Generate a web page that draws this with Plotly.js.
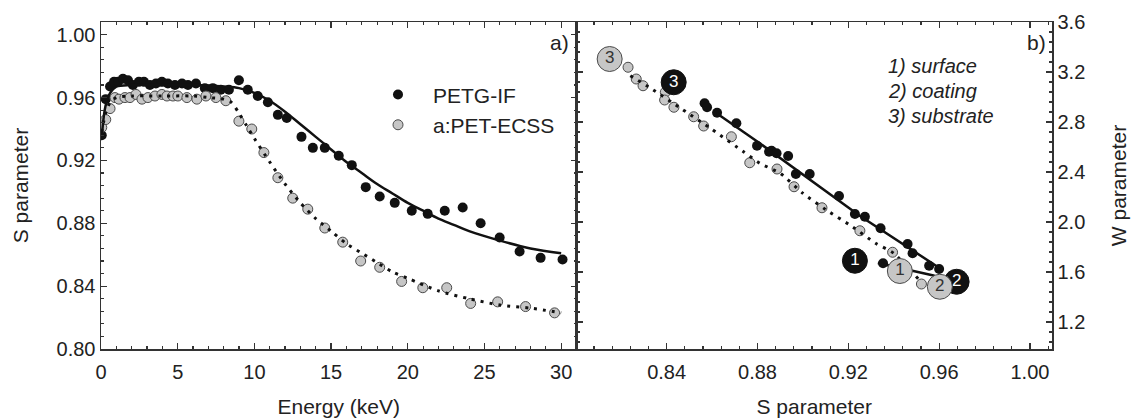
<!DOCTYPE html>
<html><head><meta charset="utf-8">
<script src="https://cdn.plot.ly/plotly-3.0.1.min.js"></script>
<style>html,body{margin:0;padding:0;background:#fff}#chart{width:1137px;height:420px}</style>
</head><body><div id="chart"></div>
<script>
// ---- Panel a) S parameter vs positron energy ----
const petgE = [0.05,0.31,0.59,0.85,1.11,1.43,1.76,2.08,2.47,2.80,3.19,3.58,3.97,4.36,4.82,5.28,5.67,6.19,6.77,7.29,7.81,8.34,8.99,9.57,10.22,10.88,11.53,12.11,13.07,13.81,14.59,15.50,16.35,17.26,18.17,19.15,20.26,21.30,22.41,23.58,24.75,25.99,27.29,28.66,30.09];
const petgS = [0.936,0.959,0.967,0.970,0.970,0.972,0.971,0.968,0.970,0.970,0.968,0.969,0.970,0.969,0.968,0.969,0.968,0.969,0.966,0.966,0.965,0.965,0.971,0.965,0.961,0.957,0.949,0.947,0.935,0.928,0.928,0.923,0.917,0.903,0.897,0.893,0.888,0.886,0.888,0.890,0.880,0.871,0.862,0.858,0.857];
const ecssE = [0.05,0.31,0.59,0.91,1.17,1.56,1.89,2.28,2.67,3.06,3.52,3.97,4.30,4.69,5.01,5.60,6.25,6.84,7.49,8.14,8.99,9.83,10.62,11.53,12.50,13.48,14.59,15.76,16.93,18.17,19.60,20.98,22.54,24.10,25.86,27.68,29.57];
const ecssS = [0.941,0.946,0.953,0.960,0.959,0.960,0.960,0.962,0.959,0.960,0.961,0.962,0.961,0.961,0.961,0.960,0.959,0.961,0.960,0.958,0.945,0.940,0.925,0.909,0.896,0.889,0.877,0.868,0.856,0.852,0.843,0.839,0.839,0.829,0.830,0.827,0.823];
// fitted curves
const petgFitE = [0.05,0.3,0.6,1,2,4,6,8,9,10,11,12,13,14,15,16,17,18,19,20,21,22,23,24,26,28,30];
const petgFitS = [0.935,0.955,0.963,0.967,0.968,0.968,0.968,0.967,0.966,0.963,0.958,0.951,0.943,0.935,0.927,0.919,0.912,0.905,0.899,0.893,0.888,0.883,0.879,0.875,0.869,0.864,0.861];
const ecssFitE = [0.05,0.3,0.6,1,2,4,6,7,8,8.5,9,9.5,10,11,12,13,14,15,16,17,18,19,20,22,24,26,28,30];
const ecssFitS = [0.938,0.950,0.957,0.960,0.961,0.961,0.961,0.960,0.959,0.957,0.950,0.942,0.934,0.919,0.905,0.893,0.883,0.875,0.867,0.861,0.855,0.849,0.845,0.837,0.832,0.828,0.826,0.823];

// ---- Panel b) W vs S ----
const petgWS_S = [0.8567,0.8578,0.8622,0.8707,0.8798,0.8851,0.8862,0.8884,0.8935,0.8969,0.9030,0.9159,0.9229,0.9273,0.9342,0.9461,0.9483,0.9556,0.9600,0.9353];
const petgWS_W = [2.950,2.918,2.874,2.790,2.610,2.562,2.570,2.550,2.528,2.384,2.384,2.208,2.064,2.042,1.950,1.824,1.750,1.650,1.624,1.670];
const ecssWS_S = [0.8230,0.8266,0.8296,0.8394,0.8391,0.8432,0.8519,0.8563,0.8685,0.8766,0.8886,0.8961,0.9084,0.9251,0.9395,0.9522];
const ecssWS_W = [3.238,3.144,3.090,3.038,2.976,2.918,2.842,2.768,2.682,2.474,2.424,2.282,2.114,1.930,1.758,1.504];
const petgLineS = [0.862,0.881,0.925,0.9603];
const petgLineW = [2.87,2.63,2.05,1.63];
const petgLinkS = [0.933,0.958];
const petgLinkW = [1.672,1.570];
const ecssLineS = [0.824,0.833,0.847,0.860,0.874,0.881,0.890,0.900,0.910,0.922,0.932,0.940,0.952];
const ecssLineW = [3.17,3.07,2.90,2.74,2.56,2.47,2.39,2.23,2.10,1.96,1.83,1.75,1.52];
// layer markers: surface, coating, substrate
const layerLabels = ['1','2','3'];
const petgLayerS = [0.9229,0.9677,0.8431];
const petgLayerW = [1.690,1.522,3.118];
const ecssLayerS = [0.9427,0.9603,0.8149];
const ecssLayerW = [1.608,1.482,3.304];
const legendNames = ['PETG-IF','a:PET-ECSS'];
const layerNotes = ['1) surface','2) coating','3) substrate'];

const FONT = 'Liberation Sans, Arial, sans-serif';
const GRAYFILL = '#c6c6c6';
const GRAYLINE = '#4a4a4a';
const dotted = '3px,6px';

const traces = [
  {x: petgE, y: petgS, type:'scatter', mode:'markers', name: legendNames[0], xaxis:'x', yaxis:'y',
   marker:{size:10, color:'#111', line:{width:0}}},
  {x: ecssE, y: ecssS, type:'scatter', mode:'markers', name: legendNames[1], xaxis:'x', yaxis:'y',
   marker:{size:10, color:GRAYFILL, line:{width:1, color:GRAYLINE}}},
  {x: petgFitE, y: petgFitS, type:'scatter', mode:'lines', showlegend:false, xaxis:'x', yaxis:'y',
   line:{color:'#111', width:2.5, shape:'spline', smoothing:1}},
  {x: ecssFitE, y: ecssFitS, type:'scatter', mode:'lines', showlegend:false, xaxis:'x', yaxis:'y',
   line:{color:'#111', width:3, dash:dotted, shape:'spline', smoothing:0.8}},

  {x: ecssWS_S, y: ecssWS_W, type:'scatter', mode:'markers', showlegend:false, xaxis:'x2', yaxis:'y2',
   marker:{size:10, color:GRAYFILL, line:{width:1, color:GRAYLINE}}},
  {x: petgWS_S, y: petgWS_W, type:'scatter', mode:'markers', showlegend:false, xaxis:'x2', yaxis:'y2',
   marker:{size:10, color:'#111'}},
  {x: ecssLineS, y: ecssLineW, type:'scatter', mode:'lines', showlegend:false, xaxis:'x2', yaxis:'y2',
   line:{color:'#111', width:3, dash:dotted, shape:'spline', smoothing:0.6}},
  {x: petgLineS, y: petgLineW, type:'scatter', mode:'lines', showlegend:false, xaxis:'x2', yaxis:'y2',
   line:{color:'#111', width:2.5}},
  {x: petgLinkS, y: petgLinkW, type:'scatter', mode:'lines', showlegend:false, xaxis:'x2', yaxis:'y2',
   line:{color:'#111', width:2.5}},
  {x: petgLayerS, y: petgLayerW, text: layerLabels, type:'scatter', mode:'markers+text', showlegend:false,
   xaxis:'x2', yaxis:'y2', textposition:'middle center', textfont:{family:FONT, size:17, color:'#fff'},
   marker:{size:25, color:'#111', line:{width:1, color:'#111'}}},
  {x: ecssLayerS, y: ecssLayerW, text: layerLabels, type:'scatter', mode:'markers+text', showlegend:false,
   xaxis:'x2', yaxis:'y2', textposition:'middle center', textfont:{family:FONT, size:17, color:'#333'},
   marker:{size:25, color:GRAYFILL, line:{width:1, color:GRAYLINE}}}
];

const axBase = {showline:true, linecolor:'#333', linewidth:1.5, ticks:'inside', ticklen:6, tickwidth:1.2,
  tickcolor:'#333', mirror:'allticks', zeroline:false, showgrid:false,
  tickfont:{family:FONT, size:20, color:'#222'}};
const titleFont = {family:FONT, size:21, color:'#222'};

const layout = {
  width:1137, height:420,
  margin:{l:101, r:85, t:22, b:71},
  paper_bgcolor:'#fff', plot_bgcolor:'#fff',
  font:{family:FONT, color:'#222'},
  showlegend:true,
  legend:{x:0.2755, y:0.84, xanchor:'left', yanchor:'top', bgcolor:'rgba(0,0,0,0)', itemwidth:60,
    font:{family:FONT, size:21, color:'#222'}, tracegroupgap:0},
  xaxis: Object.assign({}, axBase, {domain:[0,0.5], anchor:'y', range:[0,31], ticklabelstandoff:4,
    tickvals:[0,5,10,15,20,25,30], minor:{dtick:1, tick0:0, ticks:'inside', ticklen:3, tickcolor:'#333', showgrid:false},
    title:{text:'Energy (keV)', font:titleFont, standoff:18}}),
  yaxis: Object.assign({}, axBase, {domain:[0,1], anchor:'x', range:[0.80,1.0081],
    tickvals:[0.80,0.84,0.88,0.92,0.96,1.00], tickformat:'.2f',
    minor:{dtick:0.008, tick0:0.8, ticks:'inside', ticklen:3, tickcolor:'#333', showgrid:false},
    title:{text:'S parameter', font:titleFont, standoff:22}}),
  xaxis2: Object.assign({}, axBase, {domain:[0.5,1], anchor:'y2', range:[0.8003,1.0097], ticklabelstandoff:4,
    tickvals:[0.84,0.88,0.92,0.96,1.00], tickformat:'.2f',
    minor:{dtick:0.008, tick0:0.8, ticks:'inside', ticklen:3, tickcolor:'#333', showgrid:false},
    title:{text:'S parameter', font:titleFont, standoff:18}}),
  yaxis2: Object.assign({}, axBase, {domain:[0,1], anchor:'x2', side:'right', range:[0.984,3.6],
    tickvals:[1.2,1.6,2.0,2.4,2.8,3.2,3.6], tickformat:'.1f',
    minor:{dtick:0.08, tick0:0, ticks:'inside', ticklen:3, tickcolor:'#333', showgrid:false},
    title:{text:'W parameter', font:titleFont, standoff:27}}),
  annotations:[
    {xref:'paper', yref:'paper', x:0.494, y:0.98, xanchor:'right', yanchor:'top', showarrow:false,
     text:'a)', font:titleFont},
    {xref:'paper', yref:'paper', x:0.996, y:0.98, xanchor:'right', yanchor:'top', showarrow:false,
     text:'b)', font:titleFont},
    {xref:'paper', yref:'paper', x:(886-101)/951, y:1-(66-22)/327, xanchor:'left', yanchor:'middle', showarrow:false,
     text:'<i>'+layerNotes[0]+'</i>', font:{family:FONT, size:20, color:'#222'}},
    {xref:'paper', yref:'paper', x:(886-101)/951, y:1-(91-22)/327, xanchor:'left', yanchor:'middle', showarrow:false,
     text:'<i>'+layerNotes[1]+'</i>', font:{family:FONT, size:20, color:'#222'}},
    {xref:'paper', yref:'paper', x:(886-101)/951, y:1-(116-22)/327, xanchor:'left', yanchor:'middle', showarrow:false,
     text:'<i>'+layerNotes[2]+'</i>', font:{family:FONT, size:20, color:'#222'}}
  ]
};

Plotly.newPlot('chart', traces, layout, {displayModeBar:false, staticPlot:true});
</script></body></html>
